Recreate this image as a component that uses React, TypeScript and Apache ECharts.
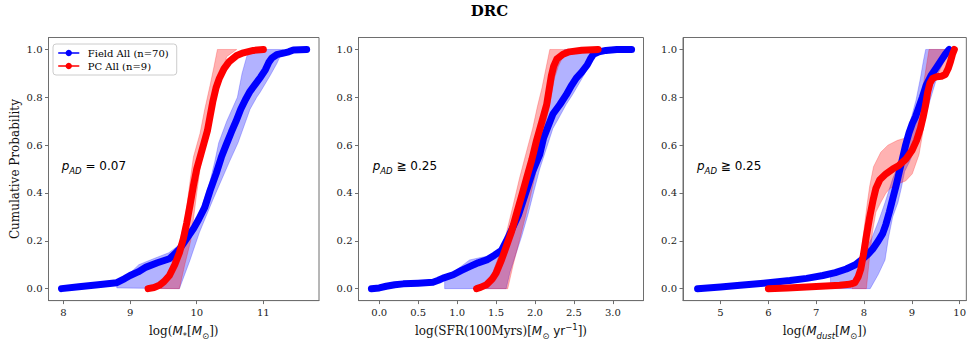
import React, { useEffect, useRef } from "react";
import * as echarts from "echarts";

const SERIF = "'DejaVu Serif', 'Liberation Serif', serif";
const SANS = "'DejaVu Sans', 'Noto Sans', sans-serif";

// ---------- tick values ----------
const probTicks = [0, 0.2, 0.4, 0.6, 0.8, 1.0];
const massTicks = [8, 9, 10, 11];
const sfrTicks = [0, 0.5, 1, 1.5, 2, 2.5, 3];
const dustTicks = [5, 6, 7, 8, 9, 10];

// ---------- panel 1 : stellar mass ----------
const fieldMass = [[7.97,0],[8.23,0.008],[8.52,0.016],[8.8,0.025],[8.92,0.042],[9.0,0.055],[9.12,0.07],[9.24,0.09],[9.41,0.108],[9.59,0.125],[9.67,0.145],[9.74,0.165],[9.85,0.21],[9.95,0.25],[10.03,0.29],[10.12,0.34],[10.2,0.41],[10.29,0.48],[10.37,0.55],[10.44,0.6],[10.52,0.655],[10.59,0.7],[10.66,0.75],[10.73,0.79],[10.8,0.825],[10.88,0.855],[10.96,0.885],[11.03,0.915],[11.08,0.945],[11.13,0.965],[11.2,0.978],[11.3,0.985],[11.38,0.99],[11.45,0.998],[11.65,1.0]];
const pcMass = [[9.27,0],[9.36,0.005],[9.44,0.014],[9.51,0.03],[9.59,0.055],[9.67,0.1],[9.74,0.15],[9.8,0.21],[9.85,0.275],[9.9,0.35],[9.95,0.43],[10.0,0.5],[10.06,0.56],[10.11,0.61],[10.16,0.66],[10.2,0.72],[10.24,0.78],[10.29,0.84],[10.34,0.88],[10.41,0.92],[10.49,0.95],[10.6,0.975],[10.7,0.986],[10.85,0.996],[11.0,1.0]];
const fieldMassBand = [[8.8,0.02],[9.0,0.065],[9.13,0.1],[9.35,0.125],[9.58,0.15],[9.7,0.175],[9.82,0.2],[9.93,0.25],[10.02,0.3],[10.12,0.38],[10.2,0.45],[10.27,0.53],[10.33,0.61],[10.45,0.7],[10.61,0.8],[10.68,0.9],[10.75,0.97],[10.83,1.0],[11.3,1.0],[11.2,0.94],[11.1,0.89],[10.95,0.82],[10.9,0.8],[10.8,0.75],[10.62,0.61],[10.49,0.53],[10.24,0.37],[10.04,0.235],[9.9,0.12],[9.74,0.0],[8.8,0.003]];
const pcMassBand = [[9.46,0.0],[9.55,0.05],[9.65,0.12],[9.75,0.2],[9.83,0.3],[9.9,0.45],[9.95,0.55],[10.05,0.65],[10.12,0.75],[10.2,0.85],[10.26,0.93],[10.31,1.0],[10.6,1.0],[10.45,0.97],[10.37,0.9],[10.27,0.8],[10.18,0.7],[10.11,0.6],[10.05,0.5],[10.0,0.4],[9.91,0.2],[9.82,0.1],[9.74,0.0]];

// ---------- panel 2 : SFR ----------
const fieldSfr = [[-0.1,0],[0.0,0.003],[0.09,0.01],[0.2,0.016],[0.31,0.02],[0.5,0.023],[0.69,0.027],[0.76,0.035],[0.82,0.044],[0.95,0.058],[1.05,0.075],[1.16,0.092],[1.27,0.108],[1.38,0.12],[1.48,0.14],[1.57,0.16],[1.65,0.21],[1.72,0.26],[1.79,0.31],[1.85,0.37],[1.91,0.43],[1.97,0.49],[2.06,0.56],[2.11,0.63],[2.17,0.68],[2.23,0.73],[2.32,0.77],[2.4,0.81],[2.47,0.85],[2.53,0.88],[2.6,0.905],[2.67,0.935],[2.71,0.96],[2.75,0.98],[2.82,0.99],[2.91,0.996],[3.05,1.0],[3.24,1.0]];
const pcSfr = [[1.25,0],[1.3,0.005],[1.38,0.017],[1.45,0.04],[1.5,0.065],[1.57,0.12],[1.63,0.175],[1.7,0.24],[1.76,0.31],[1.83,0.39],[1.89,0.46],[1.96,0.54],[2.02,0.62],[2.09,0.7],[2.15,0.77],[2.18,0.83],[2.21,0.89],[2.24,0.93],[2.28,0.96],[2.36,0.98],[2.44,0.99],[2.6,0.997],[2.81,1.0]];
const fieldSfrBand = [[0.84,0.045],[1.0,0.08],[1.16,0.12],[1.3,0.13],[1.46,0.14],[1.55,0.17],[1.61,0.2],[1.7,0.27],[1.76,0.31],[1.82,0.37],[1.88,0.43],[1.95,0.52],[2.01,0.6],[2.08,0.68],[2.14,0.75],[2.19,0.83],[2.23,0.88],[2.28,0.94],[2.33,0.98],[2.38,1.0],[2.8,1.0],[2.72,0.95],[2.64,0.9],[2.57,0.86],[2.48,0.81],[2.4,0.77],[2.3,0.71],[2.23,0.67],[2.14,0.58],[2.06,0.5],[1.98,0.4],[1.91,0.31],[1.83,0.22],[1.76,0.15],[1.68,0.07],[1.63,0.0],[0.84,0.0]];
const pcSfrBand = [[1.3,0.0],[1.45,0.06],[1.55,0.15],[1.63,0.23],[1.72,0.35],[1.8,0.46],[1.88,0.56],[1.97,0.67],[2.03,0.76],[2.09,0.84],[2.14,0.92],[2.19,1.0],[2.6,1.0],[2.45,0.985],[2.36,0.97],[2.3,0.93],[2.25,0.88],[2.19,0.77],[2.12,0.67],[2.06,0.56],[2.0,0.47],[1.93,0.37],[1.86,0.28],[1.8,0.2],[1.72,0.1],[1.65,0.0]];

// ---------- panel 3 : dust mass ----------
const fieldDust = [[4.52,0],[5.0,0.007],[5.41,0.014],[5.9,0.023],[6.45,0.034],[6.8,0.043],[7.14,0.055],[7.4,0.067],[7.63,0.082],[7.82,0.1],[7.97,0.124],[8.08,0.143],[8.18,0.165],[8.3,0.2],[8.39,0.23],[8.46,0.27],[8.53,0.32],[8.6,0.375],[8.67,0.43],[8.74,0.49],[8.8,0.54],[8.87,0.6],[8.94,0.65],[9.01,0.69],[9.08,0.72],[9.15,0.76],[9.22,0.8],[9.3,0.85],[9.4,0.89],[9.5,0.92],[9.6,0.95],[9.7,0.98],[9.78,1.0]];
const pcDust = [[6.0,0],[6.4,0.003],[6.8,0.007],[7.2,0.011],[7.49,0.014],[7.7,0.018],[7.81,0.025],[7.88,0.05],[7.93,0.08],[7.99,0.144],[8.05,0.22],[8.12,0.3],[8.19,0.37],[8.25,0.42],[8.33,0.455],[8.46,0.48],[8.6,0.5],[8.73,0.515],[8.87,0.54],[9.01,0.58],[9.1,0.62],[9.18,0.67],[9.24,0.72],[9.29,0.77],[9.33,0.82],[9.38,0.86],[9.44,0.88],[9.52,0.886],[9.62,0.888],[9.7,0.895],[9.76,0.92],[9.81,0.95],[9.85,0.98],[9.89,1.0]];
const fieldDustBand = [[7.3,0.055],[7.5,0.07],[7.9,0.12],[8.16,0.21],[8.3,0.28],[8.44,0.36],[8.6,0.46],[8.77,0.54],[8.85,0.61],[8.97,0.7],[9.09,0.79],[9.18,0.88],[9.24,0.95],[9.29,1.0],[9.78,1.0],[9.7,0.96],[9.55,0.9],[9.4,0.8],[9.25,0.7],[9.1,0.6],[8.95,0.53],[8.85,0.49],[8.78,0.42],[8.71,0.36],[8.6,0.3],[8.51,0.21],[8.44,0.12],[8.3,0.06],[8.13,0.0],[7.3,0.0]];
const pcDustBand = [[7.75,0.0],[7.85,0.05],[7.92,0.12],[7.97,0.2],[8.02,0.28],[8.07,0.36],[8.12,0.43],[8.2,0.51],[8.35,0.57],[8.5,0.6],[8.7,0.62],[8.87,0.63],[9.0,0.66],[9.08,0.7],[9.15,0.77],[9.22,0.83],[9.28,0.9],[9.32,0.95],[9.36,1.0],[9.85,1.0],[9.78,0.95],[9.73,0.92],[9.6,0.88],[9.45,0.87],[9.39,0.86],[9.33,0.78],[9.29,0.73],[9.22,0.64],[9.15,0.56],[9.01,0.48],[8.87,0.45],[8.73,0.44],[8.55,0.42],[8.46,0.4],[8.35,0.36],[8.25,0.32],[8.18,0.24],[8.11,0.12],[8.05,0.0]];

const fieldName = "Field All (n=70)";
const pcName = "PC All (n=9)";
const pTexts = ["{p|p}{s|AD} = 0.07", "{p|p}{s|AD} \u2267 0.25", "{p|p}{s|AD} \u2267 0.25"];

const BLUE = "#0000ff";
const RED = "#ff0000";
const BLUE_BAND = "rgba(0,0,255,0.3)";
const RED_BAND = "rgba(255,0,0,0.3)";
const FRAME = "#6e6e6e";

const grids = [
  { left: 48.5, top: 37.5, width: 270.5, height: 267.5 },
  { left: 358.5, top: 37.5, width: 285, height: 267.5 },
  { left: 683, top: 37.5, width: 284, height: 267.5 },
];
const xRanges = [
  [7.775, 11.835],
  [-0.266, 3.393],
  [4.215, 10.14],
];
const annotX = [61.7, 372.7, 697];

const nameRich = {
  i: { fontFamily: SANS, fontStyle: "italic", fontSize: 12, lineHeight: 18 },
  r: { fontFamily: SANS, fontSize: 12, lineHeight: 18 },
  sb: { fontFamily: SANS, fontSize: 8.5, verticalAlign: "bottom" },
  sbi: { fontFamily: SANS, fontStyle: "italic", fontSize: 8.5, verticalAlign: "bottom" },
  sp: { fontFamily: SANS, fontSize: 8.5, verticalAlign: "top" },
};

function xAxis(idx: number, ticks: number[], name: string, dec: number) {
  return {
    type: "value",
    gridIndex: idx,
    min: xRanges[idx][0],
    max: xRanges[idx][1],
    name,
    nameLocation: "middle",
    nameGap: 19,
    nameTextStyle: { fontFamily: SERIF, fontSize: 12, color: "#111", lineHeight: 18, rich: nameRich },
    axisLine: { show: true, onZero: false, lineStyle: { color: FRAME, width: 1 } },
    splitLine: { show: false },
    axisTick: { show: true, inside: false, length: 3.5, customValues: ticks, lineStyle: { color: FRAME } },
    axisLabel: {
      customValues: ticks,
      formatter: (v: number) => v.toFixed(dec),
      margin: 6.5,
      fontFamily: SERIF,
      fontSize: 10,
      color: "#1a1a1a",
    },
  };
}

function yAxis(idx: number) {
  return {
    type: "value",
    gridIndex: idx,
    min: -0.05,
    max: 1.05,
    name: idx === 0 ? "Cumulative Probability" : "",
    nameLocation: "middle",
    nameGap: 28,
    nameTextStyle: { fontFamily: SERIF, fontSize: 12, color: "#111" },
    axisLine: { show: true, onZero: false, lineStyle: { color: FRAME, width: 1 } },
    splitLine: { show: false },
    axisTick: { show: true, inside: false, length: 3.5, customValues: probTicks, lineStyle: { color: FRAME } },
    axisLabel: {
      customValues: probTicks,
      formatter: (v: number) => v.toFixed(1),
      margin: 6,
      fontFamily: SERIF,
      fontSize: 10,
      color: "#1a1a1a",
    },
  };
}

function band(idx: number, pts: number[][], color: string) {
  return {
    type: "custom",
    coordinateSystem: "cartesian2d",
    xAxisIndex: idx,
    yAxisIndex: idx,
    silent: true,
    data: [pts[0]],
    z: 1,
    renderItem: (_params: any, api: any) => ({
      type: "polygon",
      shape: { points: pts.map((p) => api.coord(p)) },
      style: { fill: color, stroke: color, lineWidth: 0.8 },
    }),
  };
}

function curve(idx: number, name: string, pts: number[][], color: string) {
  return {
    type: "line",
    name,
    xAxisIndex: idx,
    yAxisIndex: idx,
    data: pts,
    symbol: "none",
    silent: true,
    z: 3,
    itemStyle: { color },
    lineStyle: { color, width: 7, cap: "round", join: "round" },
  };
}

const fieldCurves = [fieldMass, fieldSfr, fieldDust];
const pcCurves = [pcMass, pcSfr, pcDust];
const fieldBands = [fieldMassBand, fieldSfrBand, fieldDustBand];
const pcBands = [pcMassBand, pcSfrBand, pcDustBand];

function buildOption() {
  const series: any[] = [];
  for (let i = 0; i < 3; i++) {
    series.push(band(i, fieldBands[i], BLUE_BAND));
    series.push(band(i, pcBands[i], RED_BAND));
  }
  for (let i = 0; i < 3; i++) {
    series.push(curve(i, fieldName, fieldCurves[i], BLUE));
    series.push(curve(i, pcName, pcCurves[i], RED));
  }
  const annotRich = {
    p: { fontFamily: SANS, fontStyle: "italic", fontSize: 12, lineHeight: 18 },
    s: { fontFamily: SANS, fontStyle: "italic", fontSize: 8.5, verticalAlign: "bottom" },
  };
  return {
    animation: false,
    backgroundColor: "#ffffff",
    grid: grids.map((g) => ({ ...g, show: true, borderColor: FRAME, borderWidth: 1, containLabel: false })),
    xAxis: [
      xAxis(0, massTicks, "log({i|M}{sb|*}[{i|M}{sb|\u2299}])", 0),
      xAxis(1, sfrTicks, "log(SFR(100Myrs)[{i|M}{sb|\u2299} {r|yr}{sp|\u22121}])", 1),
      xAxis(2, dustTicks, "log({i|M}{sbi|dust}[{i|M}{sb|\u2299}])", 0),
    ],
    yAxis: [yAxis(0), yAxis(1), yAxis(2)],
    legend: {
      data: [fieldName, pcName],
      left: 53,
      top: 44,
      orient: "vertical",
      itemWidth: 20,
      itemHeight: 8,
      itemGap: 3,
      padding: [4, 8, 4, 5],
      borderColor: "#cccccc",
      borderWidth: 1,
      borderRadius: 3,
      backgroundColor: "#ffffff",
      lineStyle: { width: 1.5 },
      textStyle: { fontFamily: SERIF, fontSize: 10, color: "#000", padding: [0, 0, 0, 4] },
    },
    graphic: [
      {
        type: "text",
        x: 489.5,
        y: 11,
        style: { text: "DRC", fontFamily: SERIF, fontWeight: "bold", fontSize: 15, fill: "#000", align: "center", verticalAlign: "middle" },
      },
      ...pTexts.map((t, i) => ({
        type: "text",
        x: annotX[i],
        y: 166,
        style: { text: t, fontFamily: SANS, fontSize: 12, fill: "#000", verticalAlign: "middle", rich: annotRich },
      })),
    ],
    series,
  };
}

export default function App() {
  const ref = useRef<HTMLDivElement>(null);
  useEffect(() => {
    const chart = echarts.init(ref.current!, null, { renderer: "svg" });
    chart.setOption(buildOption() as any);
    return () => chart.dispose();
  }, []);
  return (
    <div
      ref={ref}
      style={{ position: "fixed", left: 0, top: 0, width: 969, height: 345, background: "#fff" }}
    />
  );
}
